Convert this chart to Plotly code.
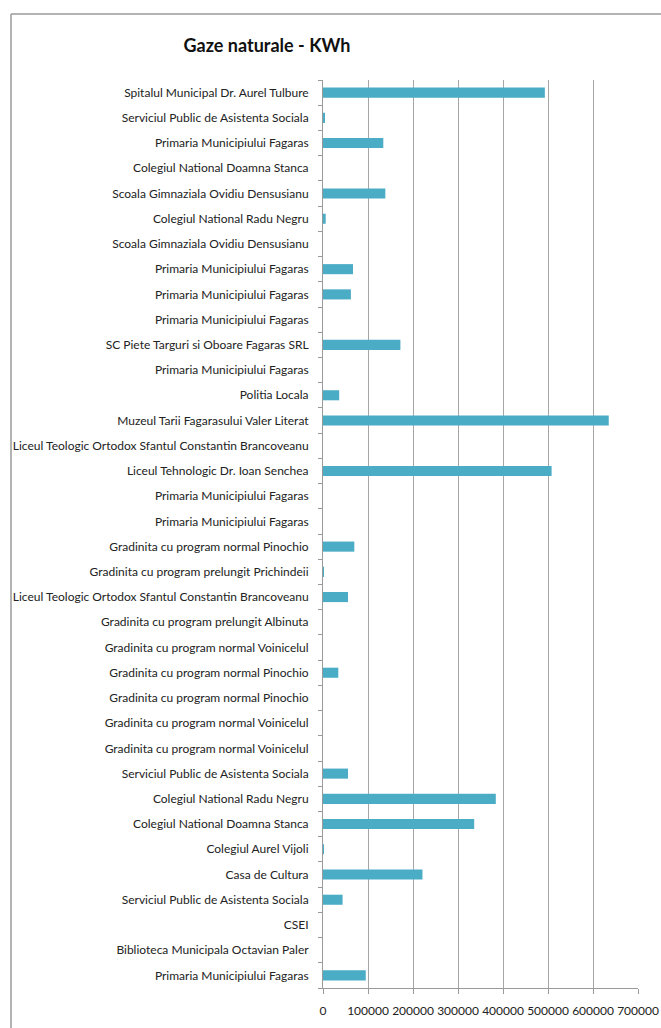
import plotly.graph_objects as go

categories = [
    "Spitalul Municipal Dr. Aurel Tulbure",
    "Serviciul Public de Asistenta Sociala",
    "Primaria Municipiului Fagaras",
    "Colegiul National Doamna Stanca",
    "Scoala Gimnaziala Ovidiu Densusianu",
    "Colegiul National Radu Negru",
    "Scoala Gimnaziala Ovidiu Densusianu",
    "Primaria Municipiului Fagaras",
    "Primaria Municipiului Fagaras",
    "Primaria Municipiului Fagaras",
    "SC Piete Targuri si Oboare Fagaras SRL",
    "Primaria Municipiului Fagaras",
    "Politia Locala",
    "Muzeul Tarii Fagarasului Valer Literat",
    "Liceul Teologic Ortodox Sfantul Constantin Brancoveanu",
    "Liceul Tehnologic Dr. Ioan Senchea",
    "Primaria Municipiului Fagaras",
    "Primaria Municipiului Fagaras",
    "Gradinita cu program normal Pinochio",
    "Gradinita cu program prelungit Prichindeii",
    "Liceul Teologic Ortodox Sfantul Constantin Brancoveanu",
    "Gradinita cu program prelungit Albinuta",
    "Gradinita cu program normal Voinicelul",
    "Gradinita cu program normal Pinochio",
    "Gradinita cu program normal Pinochio",
    "Gradinita cu program normal Voinicelul",
    "Gradinita cu program normal Voinicelul",
    "Serviciul Public de Asistenta Sociala",
    "Colegiul National Radu Negru",
    "Colegiul National Doamna Stanca",
    "Colegiul Aurel Vijoli",
    "Casa de Cultura",
    "Serviciul Public de Asistenta Sociala",
    "CSEI",
    "Biblioteca Municipala Octavian Paler",
    "Primaria Municipiului Fagaras",
]

values_kwh = [
    493000, 3000, 134000, 0, 138500, 6000, 0, 66700, 62000, 0,
    172000, 0, 36000, 635000, 0, 508000, 0, 0, 69600, 2000,
    55500, 0, 0, 34000, 0, 0, 0, 55500, 384000, 336000,
    2000, 221000, 43500, 0, 0, 95000,
]

x_ticks = [0, 100000, 200000, 300000, 400000, 500000, 600000, 700000]

positions = list(range(len(categories)))

W, H = 661, 1028
L, R, T, B = 323, 23, 80, 40

fig = go.Figure()
fig.add_trace(go.Bar(
    x=values_kwh,
    y=positions,
    orientation="h",
    width=0.4,
    marker=dict(color="#4BACC6", line=dict(width=0)),
    hoverinfo="x",
))

label_font = dict(family="Lato, Liberation Sans, sans-serif", size=12, color="#222222")
xtick_font = dict(family="Lato, Liberation Sans, sans-serif", size=12, color="#222222")

fig.update_layout(
    width=W, height=H,
    margin=dict(l=L, r=R, t=T, b=B, pad=0, autoexpand=False),
    paper_bgcolor="white",
    plot_bgcolor="white",
    showlegend=False,
    title=dict(
        text="<b>Gaze naturale - KWh</b>",
        x=267 / W, xanchor="center", xref="container",
        y=1 - 46 / H, yanchor="middle", yref="container",
        font=dict(family="Lato, Liberation Sans, sans-serif", size=18, color="#111111"),
    ),
    xaxis=dict(
        range=[0, 700000],
        tickmode="array",
        tickvals=x_ticks,
        ticktext=[str(v) for v in x_ticks],
        tickangle=0,
        automargin=False,
        ticklabelstandoff=7,
        showgrid=True, gridcolor="#A6A6A6", gridwidth=1,
        showline=True, linecolor="#9A9A9A", linewidth=1,
        ticks="outside", ticklen=5, tickcolor="#9A9A9A",
        tickfont=xtick_font,
        zeroline=False,
        fixedrange=True,
    ),
    yaxis=dict(
        range=[len(categories) - 0.5, -0.5],
        tickmode="array",
        tickvals=positions,
        ticktext=categories,
        ticks="",
        ticklabelstandoff=11,
        automargin=False,
        tickfont=label_font,
        showgrid=False,
        showline=True, linecolor="#9A9A9A", linewidth=1,
        zeroline=False,
        minor=dict(tick0=-0.5, dtick=1, ticks="outside", ticklen=4, tickcolor="#9A9A9A", showgrid=False),
        fixedrange=True,
    ),
)

# outer chart frame (top and left edges visible)
def px2paper_x(px):
    return (px - L) / (W - L - R)

def px2paper_y(py):
    return 1 - (py - T) / (H - T - B)

fig.add_shape(type="line", xref="paper", yref="paper",
              x0=px2paper_x(11), x1=px2paper_x(661), y0=px2paper_y(14), y1=px2paper_y(14),
              line=dict(color="#9A9A9A", width=1.5))
fig.add_shape(type="line", xref="paper", yref="paper",
              x0=px2paper_x(11), x1=px2paper_x(11), y0=px2paper_y(14), y1=px2paper_y(1028),
              line=dict(color="#9A9A9A", width=1.5))

fig.write_html("out.html", config={"displayModeBar": False},
               post_script="document.body.style.margin='0';document.body.style.overflow='hidden';")
